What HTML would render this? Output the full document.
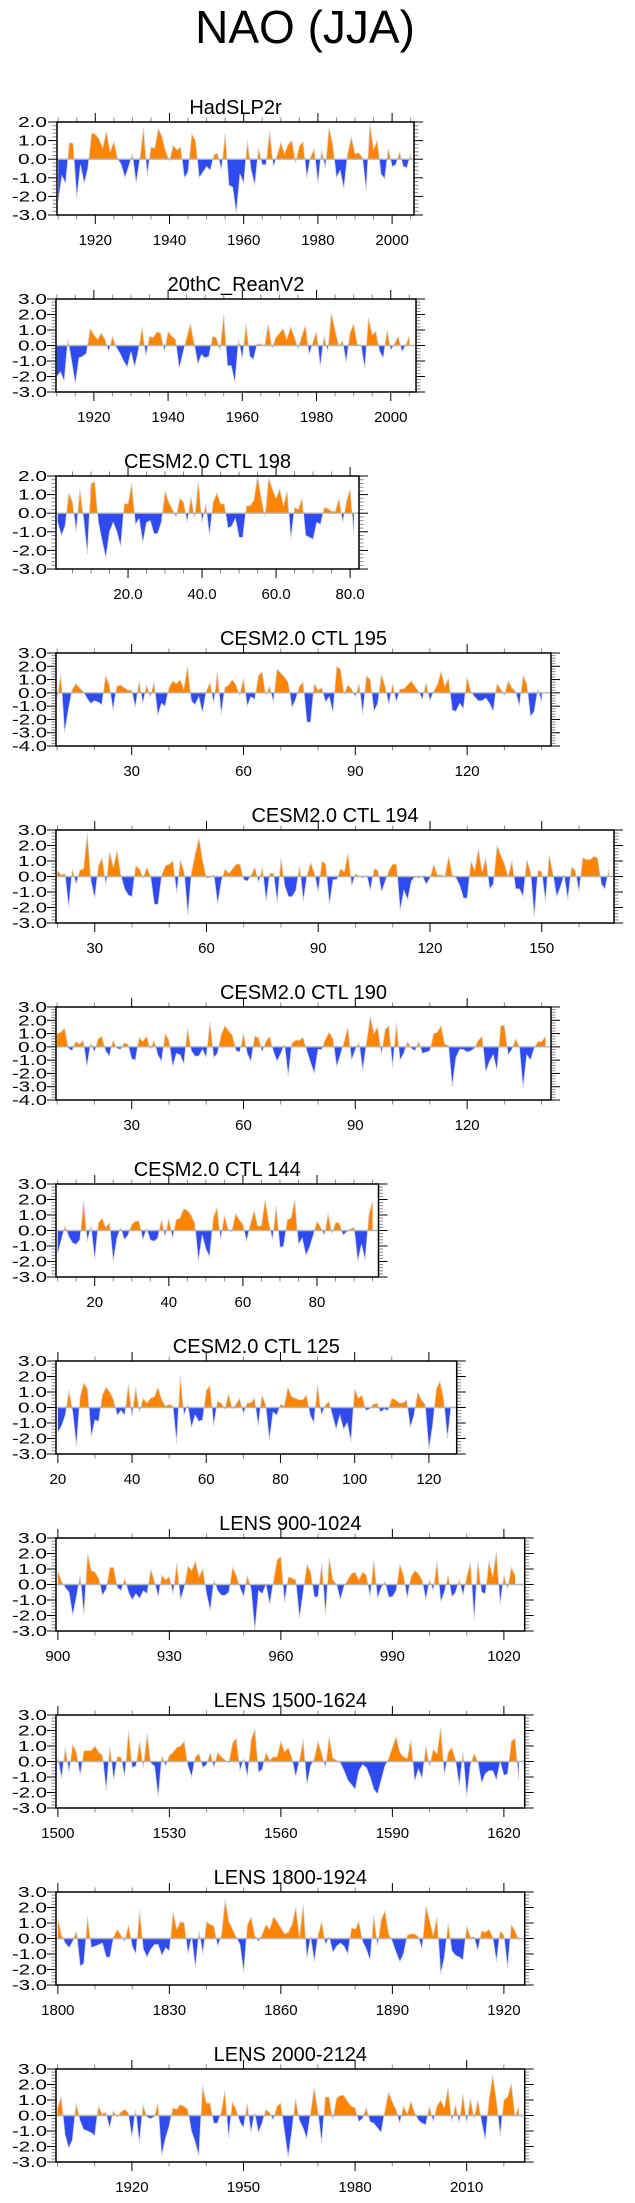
<!DOCTYPE html>
<html><head><meta charset="utf-8"><title>NAO (JJA)</title>
<style>
html,body{margin:0;padding:0;background:#fff;}
svg{display:block;font-family:"Liberation Sans",Arial,sans-serif;}
</style></head>
<body>
<svg id="fig" width="635" height="2203" viewBox="0 0 635 2203" xmlns="http://www.w3.org/2000/svg">
<rect x="0" y="0" width="635" height="2203" fill="#fff"/>
<text x="305" y="43" font-size="46" text-anchor="middle" fill="#000">NAO (JJA)</text>
</svg>
<script>
// ---- data (one value per year) ----
const hadslpTitle = "HadSLP2r";
const hadslpStart = 1910;
const hadslpValues = [-2.3,-0.9,-1.3,0.9,0.85,-2.1,-0.3,-1.3,-0.5,1.4,1.35,1.1,0.6,1.5,0.4,0.95,0.05,-0.3,-1.0,-0.4,0.3,-1.3,0.0,1.7,-0.9,0.65,0.6,1.65,1.2,0.4,-0.1,0.75,0.5,0.65,-1.0,-0.7,1.35,1.0,-1.0,-0.7,-0.4,-0.6,0.25,0.3,-0.6,1.4,-1.4,-1.5,-2.9,-0.8,-1.3,1.0,-0.6,-1.4,0.6,-0.3,-0.3,1.5,-0.4,0.2,0.9,0.3,0.8,1.0,-0.2,0.7,0.95,-1.0,0.1,0.55,-1.3,0.5,-0.5,1.7,0.8,-1.0,-0.6,-1.6,0.3,1.2,0.3,0.35,0.1,-1.7,1.9,0.55,1.0,-0.8,-1.05,0.6,-0.4,-0.3,0.4,-0.4,-0.45,0.3];
const hadslpTicks = [1920,1940,1960,1980,2000];

const reanTitle = "20thC_ReanV2";
const reanStart = 1910;
const reanValues = [-2.0,-1.7,-2.3,0.4,-1.0,-2.5,-0.8,-0.7,-0.5,1.1,0.7,0.4,0.8,0.4,-0.4,0.6,-0.1,-0.5,-1.0,-1.4,-0.4,-1.4,-0.3,1.2,-0.7,0.6,0.5,0.9,0.8,-0.4,0.9,0.6,0.4,-1.5,-0.5,0.5,1.4,0.2,-1.2,-0.6,-0.8,-0.7,0.6,0.5,-0.3,2.0,-1.3,-1.3,-2.4,0.4,-0.9,1.4,-0.7,-0.9,0.1,0.1,-0.05,1.4,-0.2,0.5,0.8,1.1,0.4,1.2,0.6,-0.2,0.6,1.3,-0.6,0.2,0.9,-1.4,0.6,-0.4,2.1,1.0,-0.05,0.3,-1.1,0.8,1.4,0.1,0.0,-1.5,1.8,0.7,0.9,-0.4,-0.8,1.0,-0.3,0.1,0.6,-0.4,0.0,0.6];
const reanTicks = [1920,1940,1960,1980,2000];

const ctl198Title = "CESM2.0 CTL 198";
const ctl198Start = 1;
const ctl198Values = [-0.5,-1.2,-0.7,1.1,0.6,-1.0,1.3,-0.3,-2.2,1.6,1.7,-0.5,-1.5,-2.4,-1.0,-0.5,-1.0,-1.8,0.5,0.5,1.6,-0.6,-0.3,-1.6,-0.5,-0.4,-1.1,-1.1,-0.5,1.2,0.6,0.2,-0.2,0.8,0.6,-0.5,0.9,-0.3,1.7,-0.5,0.5,-1.2,0.6,1.1,0.5,0.5,-0.8,-0.7,-0.3,-1.3,-1.3,0.4,0.4,0.7,2.0,0.8,-0.2,1.9,1.3,0.8,1.3,0.4,1.2,-1.4,0.3,0.2,0.8,-1.2,-1.3,-1.4,-0.5,-0.6,0.3,0.25,0.1,0.1,0.8,-0.5,0.6,1.3,-1.1];
const ctl198Ticks = [20,40,60,80];

const ctl195Title = "CESM2.0 CTL 195";
const ctl195Start = 10;
const ctl195Values = [-0.4,1.4,-3.0,-1.3,0.2,0.7,0.4,0.1,-0.4,-0.8,-0.6,-0.7,-0.9,1.3,0.6,-1.3,0.5,0.6,0.4,0.2,0.2,-1.1,0.9,-0.8,0.6,-0.3,0.8,-1.7,-0.8,-1.0,0.4,0.9,0.7,1.0,0.3,2.0,-0.6,-0.9,-0.3,-1.5,0.1,0.8,-0.8,1.6,-1.6,0.4,0.6,1.0,0.6,-0.2,1.1,-1.0,-0.3,-0.5,1.3,1.6,-0.2,0.5,-0.7,1.8,1.5,1.2,0.8,-1.1,-0.5,0.5,0.8,-2.2,-2.2,0.7,0.2,0.4,-0.7,-0.3,-1.5,2.0,1.8,-0.1,0.6,0.3,-0.3,0.7,-1.6,1.3,1.0,-1.4,-0.8,1.4,0.5,-0.9,0.7,-0.7,0.3,0.3,0.6,0.9,0.5,0.1,-0.5,0.8,-0.6,0.1,0.6,1.6,0.5,1.1,-1.3,-1.4,-0.8,-1.2,1.2,0.1,-0.3,-0.6,-0.6,-0.4,-0.8,-1.4,0.7,0.3,-0.2,0.9,0.4,0.1,-1.0,1.3,0.7,-1.8,-1.4,0.3,-0.7];
const ctl195Ticks = [30,60,90,120];

const ctl194Title = "CESM2.0 CTL 194";
const ctl194Start = 20;
const ctl194Values = [0.4,0.1,0.2,-2.0,0.5,-0.5,0.4,0.5,2.8,-0.3,-1.4,0.7,1.2,-0.6,1.6,0.6,1.7,0.1,-0.8,-1.2,-1.3,0.7,0.5,-0.1,0.6,0.0,-1.8,-1.8,0.1,0.7,0.8,1.0,-1.1,1.1,0.3,-2.5,0.3,1.5,2.5,1.0,-0.1,-0.05,0.1,-1.8,-0.3,0.5,0.2,0.5,0.8,0.8,-0.2,-0.3,0.1,0.6,-0.4,0.6,-1.6,0.2,0.2,-1.7,1.2,-0.6,-1.3,-1.3,-0.9,0.7,-1.6,0.1,0.9,0.2,-1.0,1.0,0.8,-1.8,-0.2,-0.2,0.5,0.3,1.5,-0.6,0.2,0.0,-0.1,0.1,-0.9,0.5,0.4,-1.0,-0.3,0.4,0.8,0.8,-2.2,-0.9,-1.5,-0.3,0.0,-0.1,0.0,-0.5,-0.1,0.8,0.1,0.1,0.0,1.3,0.1,-0.1,-0.6,-1.4,-1.4,1.0,0.4,1.8,0.3,1.2,-0.8,-0.5,2.0,1.4,0.8,0.0,1.0,-0.8,-0.8,-1.3,1.1,0.3,-2.6,0.4,0.3,-1.6,1.4,0.2,-1.3,-0.7,0.1,-1.5,0.6,0.4,-1.0,1.2,1.1,1.1,1.3,1.2,-0.5,-0.8,0.5];
const ctl194Ticks = [30,60,90,120,150];

const ctl190Title = "CESM2.0 CTL 190";
const ctl190Start = 10;
const ctl190Values = [1.0,1.1,1.4,-0.1,-0.3,0.4,0.2,0.5,-1.5,0.3,-0.4,0.6,0.8,-0.3,-0.7,0.5,-0.1,-0.2,0.3,0.2,-0.9,-1.0,0.7,0.4,0.8,-0.2,0.5,-0.6,-1.1,1.0,0.5,-1.5,-0.5,-0.6,-1.3,1.4,-0.3,-0.7,-0.7,-0.2,-0.8,1.9,-0.8,-0.5,0.9,1.6,1.2,0.9,-0.3,-0.4,1.0,-0.5,-1.1,0.8,0.7,-0.4,0.4,0.8,-0.3,-1.1,-0.5,0.2,-2.2,0.3,0.5,0.5,0.7,-0.3,-1.2,-2.0,-0.2,-0.2,0.6,1.1,0.6,-1.5,-0.6,0.4,1.5,-1.0,-0.2,0.3,-1.8,0.3,2.3,1.0,1.5,-0.6,1.3,1.6,-1.6,1.8,-1.0,-0.5,0.4,-0.1,-0.3,0.4,-0.5,-0.4,-0.3,1.0,1.1,1.6,0.2,0.1,-3.0,-0.8,-0.2,-0.2,-0.4,-0.3,-0.1,0.5,0.8,-1.9,-1.1,-0.6,-1.8,1.6,1.6,-0.6,-0.2,0.6,0.0,-3.1,-0.6,-1.0,-0.1,0.4,0.4,0.8];
const ctl190Ticks = [30,60,90,120];

const ctl144Title = "CESM2.0 CTL 144";
const ctl144Start = 10;
const ctl144Values = [-1.5,-0.6,0.3,-0.4,-0.8,-0.9,-0.6,1.9,-0.7,0.3,-1.9,0.5,0.8,0.2,0.5,-2.0,-0.5,0.2,-0.6,-0.3,0.4,0.6,0.6,-0.6,0.1,-0.6,-0.7,-0.5,0.7,-0.4,0.8,-0.5,0.7,0.8,1.4,1.3,1.0,0.5,-2.0,-0.3,-1.2,-1.7,0.8,1.5,-0.6,1.0,0.1,-0.1,1.1,0.7,0.4,-0.7,0.4,1.3,0.3,0.3,2.0,0.5,-0.6,1.6,-1.1,-1.0,0.7,0.8,2.0,-0.9,-0.5,-1.6,-1.1,-0.3,0.6,0.2,-0.3,1.1,-0.2,0.5,0.5,-0.3,-0.1,0.1,0.2,-2.0,-0.9,-1.9,1.0,1.9];
const ctl144Ticks = [20,40,60,80];

const ctl125Title = "CESM2.0 CTL 125";
const ctl125Start = 20;
const ctl125Values = [-1.6,-1.2,-0.5,1.1,-0.3,-2.5,0.7,1.6,1.2,-1.9,-0.8,-0.9,0.8,1.3,1.0,0.5,-0.5,-0.2,-0.5,1.5,-0.6,1.3,-0.3,0.6,0.3,0.6,0.7,1.3,0.5,0.1,0.2,0.1,-2.3,2.0,-0.5,0.2,-1.3,-0.5,-0.9,-0.8,1.1,1.4,-1.2,0.4,0.3,-0.1,0.9,-0.1,0.2,0.6,-0.4,0.3,0.3,0.6,-1.2,0.8,0.2,-2.1,-0.3,-0.5,0.2,0.1,1.3,0.7,0.6,0.5,0.5,0.8,-0.5,-1.0,1.5,-0.5,0.1,0.4,-0.5,-1.4,-0.5,-1.4,-1.0,-2.2,1.2,0.6,0.8,-0.2,-0.1,0.2,0.3,-0.3,-0.1,-0.2,0.6,0.5,0.3,0.3,0.5,-1.3,-0.5,1.0,0.5,0.2,-2.7,-1.2,1.2,1.7,0.5,-2.0,0.1];
const ctl125Ticks = [20,40,60,80,100,120];

const lens900Title = "LENS 900-1024";
const lens900Start = 900;
const lens900Values = [0.9,0.2,-0.2,-0.5,-2.0,-0.8,0.6,-2.0,2.0,0.9,0.8,0.4,-0.7,-0.3,1.1,1.1,-0.2,-0.4,0.4,-0.5,-1.0,-0.6,-0.9,-0.4,-0.6,1.0,0.2,-0.8,0.6,0.3,0.5,-0.6,1.4,-1.0,-0.2,1.2,0.9,1.5,0.5,1.0,-0.6,-1.7,0.3,-0.4,-0.7,-0.7,-0.5,1.1,0.6,-0.2,-0.8,0.6,-0.3,-3.0,-0.4,-0.6,0.0,-1.3,0.2,1.6,1.8,-1.2,0.5,0.4,0.3,-2.2,-0.5,1.3,0.8,-0.8,-0.8,1.4,-2.0,1.7,0.3,0.0,-1.0,-0.1,0.3,0.7,0.8,0.3,0.8,0.6,-0.8,1.6,-0.9,-0.2,0.2,-0.8,-0.8,-0.4,1.3,0.6,-0.9,0.5,0.9,0.7,0.3,-1.0,0.3,-0.4,1.5,-1.1,-0.5,0.6,-0.8,-0.5,0.3,-0.7,0.5,1.4,-2.3,1.5,-0.5,-0.6,1.5,0.5,2.1,-1.3,0.6,-0.3,1.1,0.6];
const lens900Ticks = [900,930,960,990,1020];

const lens1500Title = "LENS 1500-1624";
const lens1500Start = 1500;
const lens1500Values = [0.3,-1.1,0.9,-0.7,1.1,0.6,-0.9,0.7,0.7,0.7,1.0,0.6,0.4,-1.9,1.0,-1.2,0.3,0.3,-1.0,2.0,-0.4,-0.3,1.3,-0.4,1.8,-0.1,-0.3,-2.3,0.4,-0.3,0.4,0.6,0.9,1.0,1.3,-0.3,-1.0,0.3,0.5,-0.4,-0.2,0.6,-0.4,0.6,0.3,0.1,-0.1,1.2,1.5,-0.6,0.2,-1.0,1.4,2.1,-0.7,-0.5,0.6,0.1,0.3,0.3,1.3,0.6,0.9,0.2,-1.0,0.1,1.4,-1.5,-0.3,0.2,1.3,0.5,-0.4,1.6,0.2,0.1,-0.1,-0.6,-1.2,-1.5,-1.8,-0.6,-0.2,-0.4,-1.0,-1.8,-2.1,-1.2,-0.3,0.2,0.9,1.6,0.6,0.3,0.2,1.4,-1.3,-0.5,-1.1,1.0,-0.3,0.8,0.5,2.2,-0.9,0.6,0.9,0.1,-1.6,0.6,-2.3,-0.2,0.5,0.0,-1.4,-0.8,-0.6,-0.6,-1.2,0.0,-0.9,-0.8,1.3,1.5,-1.2];
const lens1500Ticks = [1500,1530,1560,1590,1620];

const lens1800Title = "LENS 1800-1924";
const lens1800Start = 1800;
const lens1800Values = [1.3,0.2,-0.3,-0.6,-0.2,0.5,-1.8,-1.6,1.4,-0.6,-0.5,-0.4,-0.3,-1.2,-1.2,0.1,0.6,0.2,-0.2,0.9,-0.5,-1.0,1.8,-0.7,-1.2,-0.7,-0.4,-0.4,-1.1,-0.6,-0.8,1.7,0.6,1.1,1.0,-1.0,0.1,-1.9,0.5,-1.0,1.1,0.9,0.8,-0.5,0.2,2.5,1.1,0.6,0.1,-0.4,-2.2,0.9,1.4,0.2,-0.2,0.3,0.9,0.6,1.4,1.1,0.7,0.3,0.4,0.9,2.0,0.1,2.2,-1.3,0.1,-1.5,0.2,1.1,-0.4,0.1,-0.9,-0.5,-0.3,-0.5,-1.0,0.7,0.6,1.1,-0.2,-0.7,-1.4,1.5,-0.5,1.2,1.8,0.3,-0.2,-0.9,-1.5,-1.0,0.2,0.3,0.3,0.1,-0.7,2.1,1.2,0.2,1.4,-2.3,-1.2,1.0,-0.8,-1.1,-1.2,-1.4,0.8,0.1,0.1,-0.8,0.5,0.4,0.6,0.1,-1.5,0.5,0.2,-1.9,0.9,0.5,-0.1];
const lens1800Ticks = [1800,1830,1860,1890,1920];

const lens2000Title = "LENS 2000-2124";
const lens2000Start = 1900;
const lens2000Values = [0.5,1.2,-1.2,-2.1,-1.6,0.8,-0.3,-0.9,-1.0,-1.1,-1.3,0.6,0.1,0.2,-0.8,0.3,-0.1,0.2,0.4,0.2,-1.4,0.4,-1.8,0.7,-0.1,-0.2,-0.1,0.8,-2.6,-1.5,-0.7,0.5,0.4,0.7,0.6,0.4,-1.0,-1.7,-2.6,1.9,0.8,0.8,-0.5,-0.5,0.2,1.6,-1.5,0.9,0.4,-0.4,-0.8,0.8,-1.1,0.2,-1.1,-0.5,0.4,0.2,-0.3,0.6,0.8,-1.0,-2.7,-1.0,1.1,-0.3,-0.8,-1.5,0.1,1.8,0.3,-1.8,1.2,1.2,-0.3,1.1,1.3,1.3,0.9,0.6,0.5,-0.4,-0.2,0.5,-0.4,-0.5,-0.8,-1.1,0.3,1.5,0.9,0.4,-0.5,0.6,0.1,0.9,0.2,-0.3,-0.5,-0.6,0.6,-0.4,0.6,1.0,0.5,1.8,-0.4,0.7,-0.5,1.4,-0.5,1.1,-0.2,1.0,-0.4,-1.6,1.0,2.6,1.0,-1.3,1.0,1.2,2.1,-0.1,0.6];
const lens2000Ticks = [1920,1950,1980,2010];

// ---- layout (positions only) ----
const BOX_H = 93;
const panels = [
  {name:"hadslp2r", title:hadslpTitle, start:hadslpStart, values:hadslpValues, ticks:hadslpTicks, top:122, left:57, right:414, xmin:1909.68, xmax:2005.9, ymax:2, ymin:-3, minor:5, dec:0},
  {name:"20thc-reanv2", title:reanTitle, start:reanStart, values:reanValues, ticks:reanTicks, top:299, left:56, right:416, xmin:1909.8, xmax:2006.8, ymax:3, ymin:-3, minor:5, dec:0},
  {name:"ctl-198", title:ctl198Title, start:ctl198Start, values:ctl198Values, ticks:ctl198Ticks, top:476, left:56, right:359, xmin:0.54, xmax:82.4, ymax:2, ymin:-3, minor:5, dec:1},
  {name:"ctl-195", title:ctl195Title, start:ctl195Start, values:ctl195Values, ticks:ctl195Ticks, top:653, left:56, right:551, xmin:9.7, xmax:142.5, ymax:3, ymin:-4, minor:10, dec:0},
  {name:"ctl-194", title:ctl194Title, start:ctl194Start, values:ctl194Values, ticks:ctl194Ticks, top:830, left:56, right:614, xmin:19.6, xmax:169.4, ymax:3, ymin:-3, minor:10, dec:0},
  {name:"ctl-190", title:ctl190Title, start:ctl190Start, values:ctl190Values, ticks:ctl190Ticks, top:1007, left:56, right:551, xmin:9.7, xmax:142.5, ymax:3, ymin:-4, minor:10, dec:0},
  {name:"ctl-144", title:ctl144Title, start:ctl144Start, values:ctl144Values, ticks:ctl144Ticks, top:1184, left:56, right:378.5, xmin:9.55, xmax:96.6, ymax:3, ymin:-3, minor:5, dec:0},
  {name:"ctl-125", title:ctl125Title, start:ctl125Start, values:ctl125Values, ticks:ctl125Ticks, top:1361, left:56, right:456.7, xmin:19.5, xmax:127.5, ymax:3, ymin:-3, minor:10, dec:0},
  {name:"lens-900", title:lens900Title, start:lens900Start, values:lens900Values.slice(0, 125), ticks:lens900Ticks, top:1538, left:56, right:524.7, xmin:899.5, xmax:1025.6, ymax:3, ymin:-3, minor:10, dec:0},
  {name:"lens-1500", title:lens1500Title, start:lens1500Start, values:lens1500Values, ticks:lens1500Ticks, top:1715, left:56, right:524.7, xmin:1499.5, xmax:1625.6, ymax:3, ymin:-3, minor:10, dec:0},
  {name:"lens-1800", title:lens1800Title, start:lens1800Start, values:lens1800Values, ticks:lens1800Ticks, top:1892, left:56, right:524.7, xmin:1799.5, xmax:1925.6, ymax:3, ymin:-3, minor:10, dec:0},
  {name:"lens-2000", title:lens2000Title, start:lens2000Start, values:lens2000Values, ticks:lens2000Ticks, top:2069, left:56, right:524.7, xmin:1899.6, xmax:2025.6, ymax:3, ymin:-3, minor:10, dec:0}
];

const NS = "http://www.w3.org/2000/svg";
const svg = document.getElementById("fig");
function mk(tag, attrs, parent) {
  const e = document.createElementNS(NS, tag);
  for (const k in attrs) e.setAttribute(k, attrs[k]);
  (parent || svg).appendChild(e);
  return e;
}

panels.forEach(function (p, idx) {
  const bottom = p.top + BOX_H;
  const xs = v => p.left + (v - p.xmin) / (p.xmax - p.xmin) * (p.right - p.left);
  const ys = v => p.top + (p.ymax - v) / (p.ymax - p.ymin) * BOX_H;
  const y0 = ys(0);

  const g = mk("g", {});
  
  

  const t = mk("text", {x: (p.left + p.right) / 2, y: p.top - 8, "font-size": 20, "text-anchor": "middle", fill: "#000"}, g);
  
  
  t.textContent = p.title;

  const defs = mk("defs", {}, g);
  const cpPos = mk("clipPath", {id: "cpos" + idx}, defs);
  mk("rect", {x: p.left, y: p.top, width: p.right - p.left, height: y0 - p.top}, cpPos);
  const cpNeg = mk("clipPath", {id: "cneg" + idx}, defs);
  mk("rect", {x: p.left, y: y0, width: p.right - p.left, height: bottom - y0}, cpNeg);

  const pts = p.values.map((v, i) => xs(p.start + i).toFixed(2) + "," + ys(v).toFixed(2));
  const xFirst = xs(p.start).toFixed(2), xLast = xs(p.start + p.values.length - 1).toFixed(2);
  const poly = xFirst + "," + y0 + " " + pts.join(" ") + " " + xLast + "," + y0;

  const pos = mk("polygon", {points: poly, fill: "#ff8400", "clip-path": "url(#cpos" + idx + ")"}, g);
  
  
  const neg = mk("polygon", {points: poly, fill: "#2d4bf0", "clip-path": "url(#cneg" + idx + ")"}, g);
  
  
  const line = mk("polyline", {points: pts.join(" "), fill: "none", stroke: "#d4d4d4", "stroke-width": 0.8}, g);
  
  
  const zl = mk("line", {x1: p.left, x2: p.right, y1: y0, y2: y0, stroke: "#b4b4b4", "stroke-width": 1.4}, g);
  
  

  const ny = Math.round((p.ymax - p.ymin) / 0.2);
  for (let k = 0; k <= ny; k++) {
    const v = p.ymin + k * 0.2;
    const yy = ys(v);
    const major = Math.abs(v - Math.round(v)) < 1e-6;
    const len = major ? 9 : 4.5;
    const col = major ? "#000" : "#888";
    mk("line", {x1: p.left - len, x2: p.left, y1: yy, y2: yy, stroke: col, "stroke-width": 1}, g);
    mk("line", {x1: p.right, x2: p.right + len, y1: yy, y2: yy, stroke: col, "stroke-width": 1}, g);
    if (major) {
      const txt = Math.round(v).toFixed(1);
      const w = txt.charAt(0) === "-" ? 35 : 29;
      const lab = mk("text", {x: 47 - w, y: yy + 5, "font-size": 14.5, "text-anchor": "start", textLength: w, lengthAdjust: "spacingAndGlyphs", fill: "#000"}, g);
      
      
      lab.textContent = txt;
    }
  }

  const mStart = Math.ceil(p.xmin / p.minor) * p.minor;
  for (let v = mStart; v <= p.xmax; v += p.minor) {
    const major = p.ticks.indexOf(v) >= 0;
    const xx = xs(v);
    const len = major ? 9 : 4.5;
    const col = major ? "#000" : "#888";
    mk("line", {x1: xx, x2: xx, y1: bottom, y2: bottom + len, stroke: col, "stroke-width": 1}, g);
    mk("line", {x1: xx, x2: xx, y1: p.top - len, y2: p.top, stroke: col, "stroke-width": 1}, g);
  }
  p.ticks.forEach(function (v) {
    const lab = mk("text", {x: xs(v), y: bottom + 30, "font-size": 15, "text-anchor": "middle", fill: "#000"}, g);
    
    
    lab.textContent = v.toFixed(p.dec);
  });

  const box = mk("rect", {x: p.left, y: p.top, width: p.right - p.left, height: BOX_H, fill: "none", stroke: "#000", "stroke-width": 1.5}, g);
  
  
});
</script>
</body></html>
